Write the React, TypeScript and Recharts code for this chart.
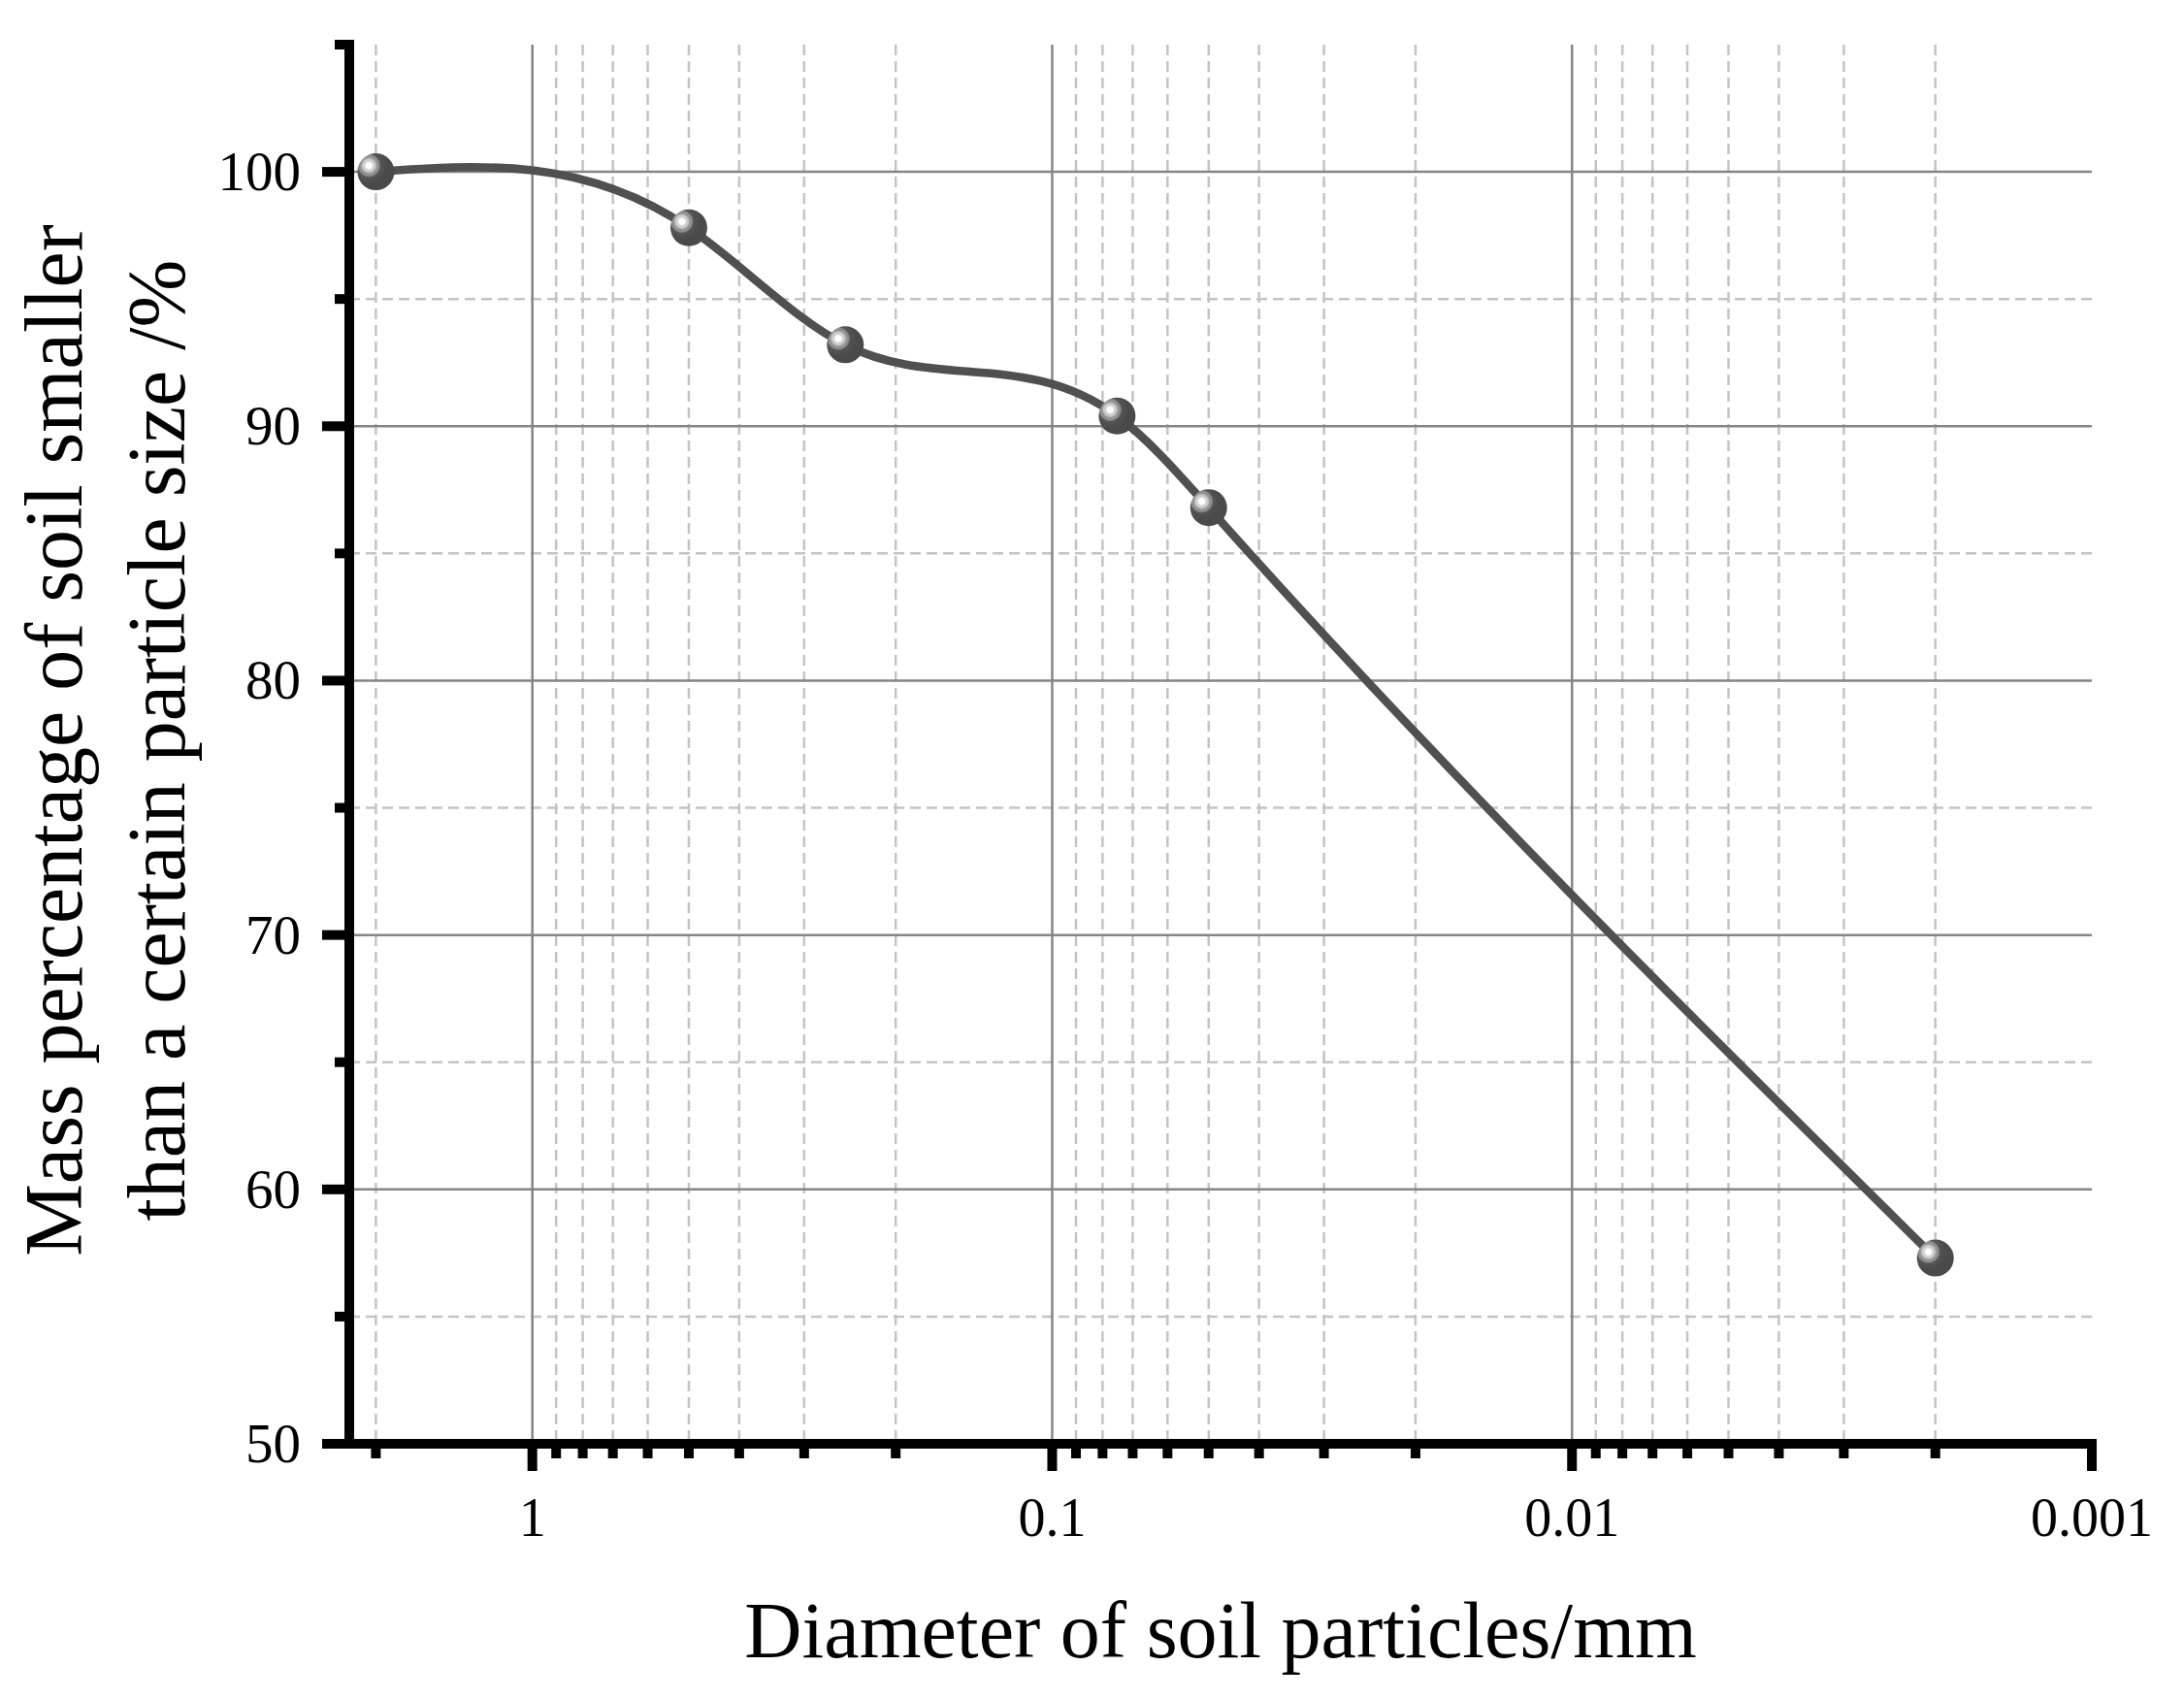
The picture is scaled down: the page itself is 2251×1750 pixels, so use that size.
import { CartesianGrid, Label, Line, LineChart, XAxis, YAxis } from "recharts";

// particle diameter (mm) and cumulative passing (%)
const diameters = [2, 0.5, 0.25, 0.075, 0.05, 0.002];
const passing = [100, 97.8, 93.2, 90.4, 86.8, 57.3];

const majorX = [1, 0.1, 0.01, 0.001];
const minorX = [
  2,
  0.9, 0.8, 0.7, 0.6, 0.5, 0.4, 0.3, 0.2,
  0.09, 0.08, 0.07, 0.06, 0.05, 0.04, 0.03, 0.02,
  0.009, 0.008, 0.007, 0.006, 0.005, 0.004, 0.003, 0.002,
];
const majorY = [50, 60, 70, 80, 90, 100];
const minorY = [55, 65, 75, 85, 95, 105];

const gridMajorX = [1, 0.1, 0.01];
const gridMajorY = [60, 70, 80, 90, 100];
const gridMinorY = [55, 65, 75, 85, 95];

const data = diameters.map((d, i) => ({ d, pct: passing[i] }));

const FONT = "'Liberation Serif', 'Times New Roman', serif";
const AXIS_W = 10;

// natural cubic spline with y as a function of x (Origin-style spline),
// written as a d3 curve factory so Recharts draws it through its scales
function naturalX(context: any) {
  let xs: number[] = [];
  let ys: number[] = [];
  return {
    areaStart() {},
    areaEnd() {},
    lineStart() {
      xs = [];
      ys = [];
    },
    point(x: number, y: number) {
      xs.push(+x);
      ys.push(+y);
    },
    lineEnd() {
      const n = xs.length;
      if (!n) return;
      context.moveTo(xs[0], ys[0]);
      if (n === 1) return;
      if (n === 2) {
        context.lineTo(xs[1], ys[1]);
        return;
      }
      const h: number[] = [];
      const s: number[] = [];
      for (let i = 0; i < n - 1; i++) {
        h[i] = xs[i + 1] - xs[i];
        s[i] = (ys[i + 1] - ys[i]) / h[i];
      }
      const M = new Array(n).fill(0);
      const bp: number[] = [];
      const dp: number[] = [];
      for (let i = 1; i < n - 1; i++) {
        const a = h[i - 1];
        const b = 2 * (h[i - 1] + h[i]);
        const d = 6 * (s[i] - s[i - 1]);
        if (i === 1) {
          bp[i] = b;
          dp[i] = d;
        } else {
          const w = a / bp[i - 1];
          bp[i] = b - w * h[i - 1];
          dp[i] = d - w * dp[i - 1];
        }
      }
      M[n - 2] = dp[n - 2] / bp[n - 2];
      for (let i = n - 3; i >= 1; i--) M[i] = (dp[i] - h[i] * M[i + 1]) / bp[i];
      const m: number[] = [];
      for (let i = 0; i < n - 1; i++) m[i] = s[i] - (h[i] * (2 * M[i] + M[i + 1])) / 6;
      m[n - 1] = s[n - 2] + (h[n - 2] * (M[n - 2] + 2 * M[n - 1])) / 6;
      for (let i = 0; i < n - 1; i++) {
        const t = h[i] / 3;
        context.bezierCurveTo(xs[i] + t, ys[i] + m[i] * t, xs[i + 1] - t, ys[i + 1] - m[i + 1] * t, xs[i + 1], ys[i + 1]);
      }
    },
  };
}

const toPx = (scale: any, v: number) =>
  typeof scale === "function" ? scale(v) : scale?.map ? scale.map(v) : 0;

const xLines = (values: number[]) => (props: any) => {
  const s = props?.xAxis?.scale;
  return s ? values.map((v) => toPx(s, v)) : [];
};
const yLines = (values: number[]) => (props: any) => {
  const s = props?.yAxis?.scale;
  return s ? values.map((v) => toPx(s, v)) : [];
};

function XTick(props: any) {
  const { x, y, payload } = props;
  const major = majorX.includes(payload.value);
  return (
    <g>
      <line x1={x} x2={x} y1={y} y2={y + (major ? 28 : 15)} stroke="#000" strokeWidth={AXIS_W} />
      {major && (
        <text x={x} y={y + 95} textAnchor="middle" fontFamily={FONT} fontSize={56} fill="#000">
          {String(payload.value)}
        </text>
      )}
    </g>
  );
}

function YTick(props: any) {
  const { x, y, payload } = props;
  const major = majorY.includes(payload.value);
  return (
    <g>
      <line x1={x} x2={x - (major ? 28 : 15)} y1={y} y2={y} stroke="#000" strokeWidth={AXIS_W} />
      {major && (
        <text x={x - 50} y={y + 19} textAnchor="end" fontFamily={FONT} fontSize={57} fill="#000">
          {payload.value}
        </text>
      )}
    </g>
  );
}

function Sphere(props: any) {
  const { cx, cy, index } = props;
  if (cx == null || cy == null) return <g key={index} />;
  return <circle key={index} cx={cx} cy={cy} r={19} fill="url(#sphere)" />;
}

function XTitle(props: any) {
  const vb = props.viewBox || {};
  return (
    <text x={vb.x + vb.width / 2} y={vb.y + 220} textAnchor="middle" fontFamily={FONT} fontSize={82} fill="#000">
      Diameter of soil particles/mm
    </text>
  );
}

function YTitle(props: any) {
  const vb = props.viewBox || {};
  const cy = vb.y + vb.height / 2 - 4;
  const x1 = vb.x + 84;
  const x2 = vb.x + 190;
  return (
    <g>
      <text x={x1} y={cy} transform={`rotate(-90 ${x1} ${cy})`} textAnchor="middle" fontFamily={FONT} fontSize={84} fill="#000">
        Mass percentage of soil smaller
      </text>
      <text x={x2} y={cy} transform={`rotate(-90 ${x2} ${cy})`} textAnchor="middle" fontFamily={FONT} fontSize={84} fill="#000">
        than a certain particle size /%
      </text>
    </g>
  );
}

export default function App() {
  return (
    <div style={{ position: "absolute", left: 0, top: 0, background: "#fff" }}>
      <LineChart width={2251} height={1750} data={data} margin={{ top: 46, right: 95, bottom: 0, left: 0 }}>
        <defs>
          <radialGradient id="sphere" cx="0.31" cy="0.33" r="0.5" fx="0.31" fy="0.33">
            <stop offset="0%" stopColor="#ffffff" />
            <stop offset="16%" stopColor="#ffffff" />
            <stop offset="22%" stopColor="#d9d9d9" />
            <stop offset="36%" stopColor="#c4c4c4" />
            <stop offset="42%" stopColor="#9a9a9a" />
            <stop offset="56%" stopColor="#8a8a8a" />
            <stop offset="64%" stopColor="#545454" />
            <stop offset="100%" stopColor="#4a4a4a" />
          </radialGradient>
        </defs>
        <CartesianGrid
          stroke="#c4c4c4"
          strokeWidth={2.5}
          strokeDasharray="11 6"
          verticalCoordinatesGenerator={xLines(minorX)}
          horizontalCoordinatesGenerator={yLines(gridMinorY)}
        />
        <CartesianGrid
          stroke="#858585"
          strokeWidth={2.5}
          verticalCoordinatesGenerator={xLines(gridMajorX)}
          horizontalCoordinatesGenerator={yLines(gridMajorY)}
        />
        <XAxis
          dataKey="d"
          type="number"
          scale="log"
          domain={[0.001, 2.25]}
          reversed
          allowDataOverflow
          ticks={[...majorX, ...minorX]}
          interval={0}
          tickSize={0}
          tickMargin={0}
          tickLine={false}
          tick={XTick}
          height={262}
          axisLine={{ stroke: "#000", strokeWidth: AXIS_W, strokeLinecap: "square" }}
        >
          <Label content={XTitle} />
        </XAxis>
        <YAxis
          type="number"
          domain={[50, 105]}
          allowDataOverflow
          ticks={[...majorY, ...minorY]}
          interval={0}
          tickSize={0}
          tickMargin={0}
          tickLine={false}
          tick={YTick}
          width={360}
          axisLine={{ stroke: "#000", strokeWidth: AXIS_W, strokeLinecap: "square" }}
        >
          <Label content={YTitle} />
        </YAxis>
        <Line
          type={naturalX as any}
          dataKey="pct"
          stroke="#505050"
          strokeWidth={8.5}
          dot={Sphere}
          activeDot={false}
          isAnimationActive={false}
        />
      </LineChart>
    </div>
  );
}
